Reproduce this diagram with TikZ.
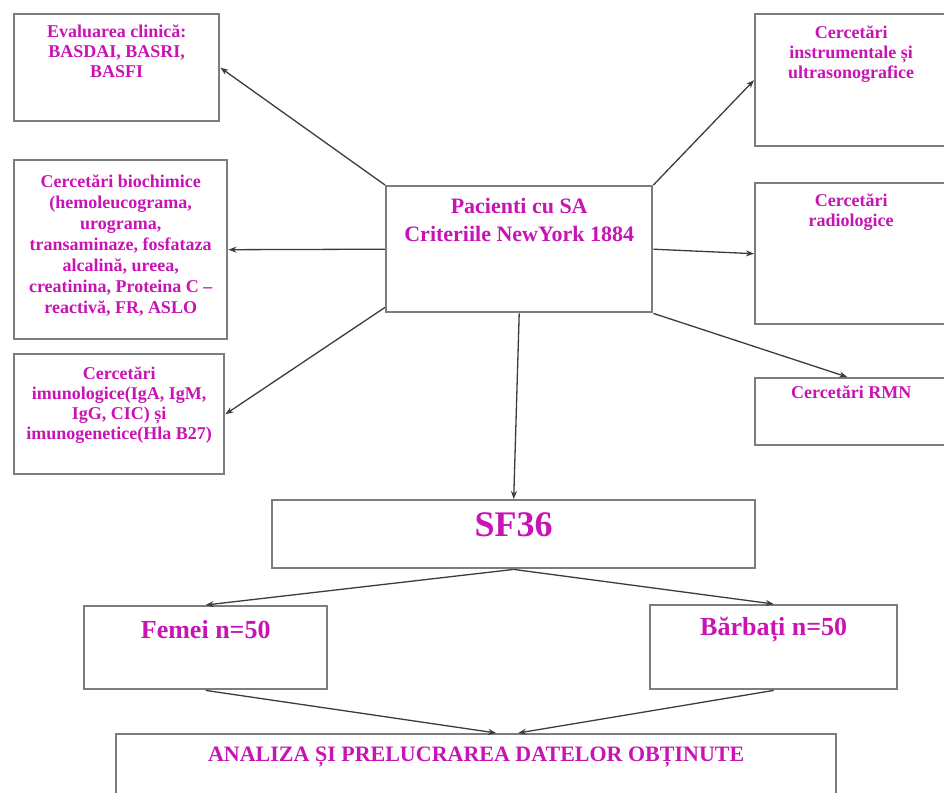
\documentclass[tikz,border=0pt]{standalone}
\usepackage{fontspec}
\setmainfont{Liberation Serif}
\usetikzlibrary{arrows.meta}
\definecolor{txtmag}{RGB}{200,20,180}
\definecolor{boxgray}{RGB}{125,125,125}
\definecolor{arrgray}{RGB}{60,60,60}
\tikzset{
  box/.style={draw=boxgray, line width=2.4pt, fill=white, rectangle, inner sep=0pt, anchor=north west},
  txt/.style={text=txtmag, font=\bfseries\fontsize{18}{20}\selectfont, align=center, inner sep=0pt, anchor=north},
  arr/.style={draw=arrgray, line width=1.3pt, -{Stealth[length=8pt,width=6pt]}}
}
\begin{document}
\begin{tikzpicture}[x=1pt,y=-1pt]
\useasboundingbox[fill=white] (0,0) rectangle (944,792);
% boxes
\node[box, minimum width=205pt, minimum height=107pt] (b1) at (13,13) {};
\node[box, minimum width=213pt, minimum height=179pt] (b2) at (13,159) {};
\node[box, minimum width=210pt, minimum height=120pt] (b3) at (13,353) {};
\node[box, minimum width=266pt, minimum height=126pt] (c) at (385,185) {};
\node[box, minimum width=192pt, minimum height=132pt] (r1) at (754,13) {};
\node[box, minimum width=192pt, minimum height=141pt] (r2) at (754,182) {};
\node[box, minimum width=192pt, minimum height=67pt] (r3) at (754,377) {};
\node[box, minimum width=483pt, minimum height=68pt] (sf) at (271,499) {};
\node[box, minimum width=243pt, minimum height=83pt] (fe) at (83,605) {};
\node[box, minimum width=247pt, minimum height=84pt] (ba) at (649,604) {};
\node[box, minimum width=720pt, minimum height=80pt] (an) at (115,733) {};
% texts
\node[txt] (t1) at ([yshift=-12pt]b1.north) {Evaluarea clinică:\\ BASDAI, BASRI,\\ BASFI};
\node[txt, font=\bfseries\fontsize{18}{21}\selectfont] (t2) at ([yshift=-16pt]b2.north) {Cercetări biochimice\\ (hemoleucograma,\\ urograma,\\ transaminaze, fosfataza\\ alcalină, ureea,\\ creatinina, Proteina C –\\ reactivă, FR, ASLO};
\node[txt] (t3) at ([yshift=-14pt]b3.north) {Cercetări\\ imunologice(IgA, IgM,\\ IgG, CIC) și\\ imunogenetice(Hla B27)};
\node[txt, font=\bfseries\fontsize{22}{28}\selectfont] (tc) at ([yshift=-13pt]c.north) {Pacienti cu SA\\ Criteriile NewYork 1884};
\node[txt] (tr1) at ([yshift=-13pt]r1.north) {Cercetări\\ instrumentale și\\ ultrasonografice};
\node[txt] (tr2) at ([yshift=-12pt]r2.north) {Cercetări\\ radiologice};
\node[txt] (tr3) at ([yshift=-9pt]r3.north) {Cercetări RMN};
\node[txt, font=\bfseries\fontsize{36}{40}\selectfont] (tsf) at ([yshift=-13pt]sf.north) {SF36};
\node[txt, font=\bfseries\fontsize{26}{30}\selectfont] (tfe) at ([yshift=-15pt]fe.north) {Femei n=50};
\node[txt, font=\bfseries\fontsize{26}{30}\selectfont] (tba) at ([yshift=-13pt]ba.north) {Bărbați n=50};
\node[txt, font=\bfseries\fontsize{22}{26}\selectfont] (tan) at ([yshift=-14pt]an.north) {ANALIZA ȘI PRELUCRAREA DATELOR OBȚINUTE};
% connector end points
\coordinate (an1) at ([xshift=20pt]an.north);
\coordinate (an2) at ([xshift=42pt]an.north);
\coordinate (r3a) at ([xshift=-4pt]r3.north);
% connectors
\draw[arr] (c.north west) -- (b1.east);
\draw[arr] (c.west) -- (b2.east);
\draw[arr] ([yshift=6pt]c.south west) -- (b3.east);
\draw[arr] (c.north east) -- (r1.west);
\draw[arr] (c.east) -- (r2.west);
\draw[arr] (c.south east) -- (r3a);
\draw[arr] (c.south) -- (sf.north);
\draw[arr] (sf.south) -- (fe.north);
\draw[arr] (sf.south) -- (ba.north);
\draw[arr] (fe.south) -- (an1);
\draw[arr] (ba.south) -- (an2);
\end{tikzpicture}
\end{document}
